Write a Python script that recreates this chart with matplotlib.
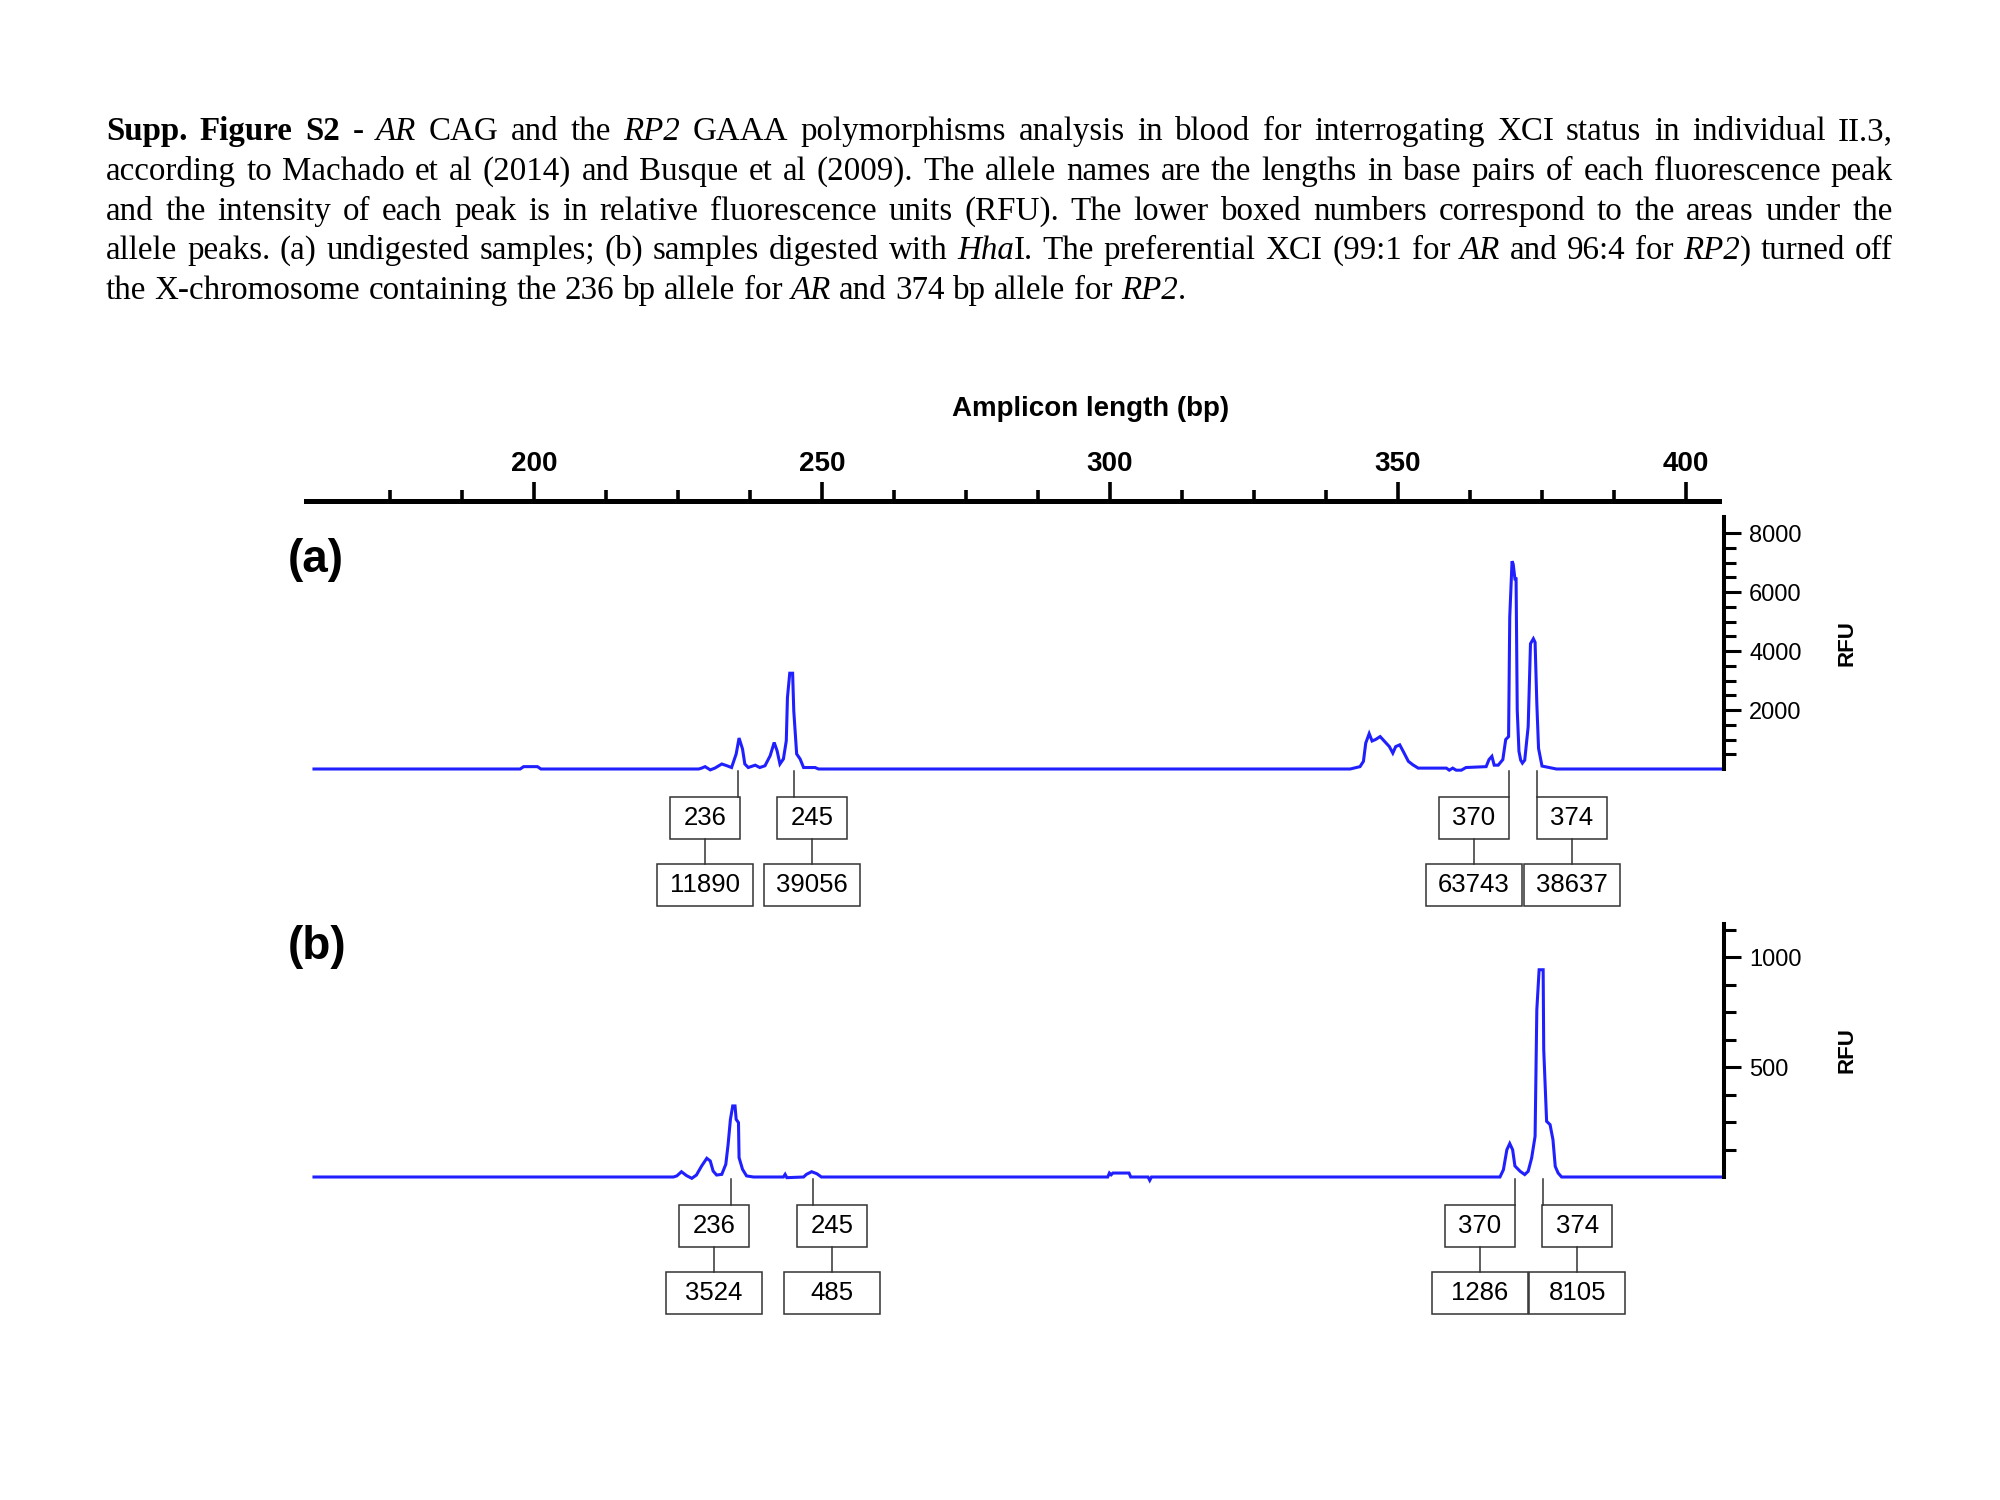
import re
import matplotlib
matplotlib.use('Agg')
import matplotlib.pyplot as plt
from matplotlib import font_manager
from matplotlib.patches import Rectangle
from matplotlib.ticker import FixedLocator
from matplotlib.transforms import blended_transform_factory

W, H = 2000, 1500

# scale of the top ruler (bp)
ruler_major = [200, 250, 300, 350, 400]
ruler_minor = [175, 187.5, 212.5, 225, 237.5, 262.5, 275, 287.5,
               312.5, 325, 337.5, 362.5, 375, 387.5]

# (a) undigested trace
a_bp = [161.8, 197.6, 198.2, 200.6, 201.2, 228.6, 229.1, 229.7, 230.6, 231.4,
        232.6, 233.5, 234.3, 235.1, 235.6, 236.2, 236.6, 237.2, 238.4, 239.2,
        240.1, 241.0, 241.7, 242.2, 242.7, 243.3, 243.8, 244.0, 244.4, 244.9,
        245.1, 245.6, 246.2, 246.8, 248.8, 249.4,
        341.7, 343.4, 344.0, 344.4, 345.0, 345.5, 346.1, 346.9, 347.7, 348.5,
        349.1, 349.6, 350.3, 350.9, 351.8, 352.6, 353.5, 358.4, 358.9, 359.5,
        360.1, 361.0, 361.8, 365.3, 365.8, 366.3, 366.7, 367.4, 368.2, 368.7,
        369.2, 369.4, 369.8, 370.0, 370.3, 370.5, 370.7, 371.0, 371.3, 371.6,
        372.0, 372.6, 373.0, 373.5, 373.8, 374.1, 374.4, 375.0, 377.5, 406.6]
a_rfu = [0, 0, 80, 80, 0, 0, 30, 80, -30, 30,
         170, 110, 50, 510, 1050, 680, 170, 50, 130, 50,
         110, 450, 900, 620, 170, 340, 960, 2420, 3250, 3250,
         1970, 510, 340, 50, 50, 0,
         0, 80, 260, 880, 1200, 950, 1000, 1100, 930, 760,
         540, 760, 820, 600, 260, 140, 30, 30, -40, 30,
         -40, -40, 50, 80, 320, 430, 130, 130, 320, 1000,
         1100, 5150, 7050, 6950, 6450, 6450, 2000, 600, 300, 200,
         300, 1440, 4250, 4420, 4300, 2230, 700, 100, 0, 0]

# (b) HhaI digested trace
b_bp = [161.8, 224.2, 224.8, 225.6, 226.5, 227.4, 228.2, 229.1, 230.0, 230.6,
        231.1, 231.7, 232.6, 233.3, 233.7, 234.1, 234.5, 234.9, 235.1, 235.5,
        235.6, 236.2, 236.9, 238.1, 243.3, 243.6, 243.9, 246.8, 247.3, 248.2,
        249.1, 249.9, 299.6, 299.9, 300.2, 300.5, 303.3, 303.6, 306.6, 306.9,
        307.2, 367.7, 368.3, 368.9, 369.4, 369.9, 370.3, 371.2, 372.0, 372.6,
        373.2, 373.8, 374.1, 374.5, 375.2, 375.3, 375.8, 376.4, 376.9, 377.3,
        377.8, 378.4, 406.6]
b_rfu = [0, 0, 5, 24, 6, -6, 9, 50, 85, 73,
         27, 9, 12, 58, 148, 262, 323, 323, 262, 247,
         88, 35, 5, 0, 0, 12, -3, 0, 12, 24,
         15, 0, 0, 18, 10, 18, 18, 0, 0, -15,
         0, 0, 33, 124, 152, 124, 50, 26, 11, 26,
         86, 185, 760, 942, 942, 579, 253, 238, 170, 48,
         18, 0, 0]

# allele calls and peak areas
alleles = ['236', '245', '370', '374']
a_calls = [235.4, 245.1, 369.3, 374.1]
a_areas = ['11890', '39056', '63743', '38637']
b_calls = [234.2, 248.4, 370.3, 375.2]
b_areas = ['3524', '485', '1286', '8105']
# horizontal shift of the label boxes from the call line (bp)
a_box_dx = [-5.7, 3.2, -6.1, 6.1]
b_box_dx = [-2.95, 3.3, -6.1, 5.9]

a_major = [2000, 4000, 6000, 8000]
a_minor = [500, 1000, 1500, 2500, 3000, 3500, 4500, 5000, 5500, 6500, 7000, 7500]
b_major = [500, 1000]
b_minor = [125, 250, 375, 625, 750, 875, 1125]

caption = [
    '<b>Supp. Figure S2</b> - <i>AR</i> CAG and the <i>RP2</i> GAAA polymorphisms analysis in blood for interrogating XCI status in individual II.3,',
    'according to Machado et al (2014) and Busque et al (2009). The allele names are the lengths in base pairs of each fluorescence peak',
    'and the intensity of each peak is in relative fluorescence units (RFU).  The lower boxed numbers correspond to the areas under the',
    'allele peaks. (a) undigested samples; (b) samples digested with <i>Hha</i>I. The preferential XCI (99:1 for <i>AR</i> and 96:4 for <i>RP2</i>) turned off',
    'the X-chromosome containing the 236 bp allele for <i>AR</i> and 374 bp allele for <i>RP2</i>.',
]


def have_font(name):
    try:
        font_manager.findfont(name, fallback_to_default=False)
        return True
    except ValueError:
        return False


SANS = 'Liberation Sans'
SERIF = 'Liberation Serif'
if have_font('Liberation Sans Narrow'):
    box_font, box_size = 'Liberation Sans Narrow', 20
else:
    box_font, box_size = SANS, 18.5

BLUE = '#2020ff'


def bp(px):
    # 200 bp sits at x=534 px, 400 bp at x=1686 px
    return 200 + (px - 534) / 5.76


def box_px(left, top, right, bottom):
    return [left / W, 1 - bottom / H, (right - left) / W, (bottom - top) / H]


fig = plt.figure(figsize=(20, 15), dpi=100)
fig.patch.set_facecolor('white')

# ---- top ruler
ax_s = fig.add_axes(box_px(306, 501, 1719, 511))
ax_s.set_xlim(bp(306), bp(1719))
ax_s.set_ylim(0, 1)
for s in ['left', 'right', 'bottom']:
    ax_s.spines[s].set_visible(False)
ax_s.spines['top'].set_linewidth(3.6)
ax_s.set_yticks([])
ax_s.xaxis.tick_top()
ax_s.xaxis.set_major_locator(FixedLocator(ruler_major))
ax_s.xaxis.set_minor_locator(FixedLocator(ruler_minor))
ax_s.tick_params(axis='x', which='major', direction='out', length=13.5, width=2.6,
                 pad=4, labelsize=20)
ax_s.tick_params(axis='x', which='minor', direction='out', length=8, width=2.6)
for lab in ax_s.get_xticklabels():
    lab.set_fontfamily(SANS)
    lab.set_fontweight('bold')
ax_s.patch.set_alpha(0)
fig.text(1091 / W, 1 - 409 / H, 'Amplicon length (bp)', ha='center', va='center',
         fontsize=20, fontweight='bold', family=SANS)


def panel(box, ylim, xs, ys, major, minor, calls, areas, dx, base_px):
    ax = fig.add_axes(box_px(*box))
    ax.set_xlim(bp(box[0]), bp(box[2]))
    ax.set_ylim(*ylim)
    ax.patch.set_alpha(0)
    for s in ['left', 'top', 'bottom']:
        ax.spines[s].set_visible(False)
    ax.spines['right'].set_linewidth(2.9)
    ax.set_xticks([])
    ax.yaxis.tick_right()
    ax.yaxis.set_major_locator(FixedLocator(major))
    ax.yaxis.set_minor_locator(FixedLocator(minor))
    ax.tick_params(axis='y', which='major', direction='out', length=12, width=2.2,
                   pad=6, labelsize=17)
    ax.tick_params(axis='y', which='minor', direction='out', length=8.5, width=2.2)
    for lab in ax.get_yticklabels():
        lab.set_fontfamily(SANS)
    ax.yaxis.set_label_position('right')
    ax.set_ylabel('RFU', fontsize=16, fontweight='bold', family=SANS, labelpad=25)

    ax.plot(xs, ys, color=BLUE, lw=2.2, clip_on=False, solid_joinstyle='miter')

    tr = blended_transform_factory(ax.transData, fig.transFigure)

    def fy(off):
        return 1 - (base_px + off) / H

    lc = '#333333'
    for x, name, area, d in zip(calls, alleles, areas, dx):
        cx = x + d
        ax.plot([x, x], [fy(2), fy(28)], transform=tr, color=lc, lw=1.1, clip_on=False)
        ax.add_patch(Rectangle((cx - 6.1, fy(70)), 12.2, fy(28) - fy(70), transform=tr,
                               fill=False, ec=lc, lw=1.1, clip_on=False))
        ax.text(cx, fy(49), name, transform=tr, ha='center', va='center',
                fontsize=box_size, family=box_font)
        ax.plot([cx, cx], [fy(70), fy(95)], transform=tr, color=lc, lw=1.1, clip_on=False)
        ax.add_patch(Rectangle((cx - 8.3, fy(137)), 16.6, fy(95) - fy(137), transform=tr,
                               fill=False, ec=lc, lw=1.1, clip_on=False))
        ax.text(cx, fy(116), area, transform=tr, ha='center', va='center',
                fontsize=box_size, family=box_font)
    return ax


ax_a = panel((295, 517, 1724, 769), (0, 8550), a_bp, a_rfu, a_major, a_minor,
             a_calls, a_areas, a_box_dx, 769)
ax_b = panel((295, 924, 1724, 1177), (0, 1150), b_bp, b_rfu, b_major, b_minor,
             b_calls, b_areas, b_box_dx, 1177)

fig.text(316 / W, 1 - 560 / H, '(a)', ha='center', va='center', fontsize=33,
         fontweight='bold', family=SANS)
fig.text(317 / W, 1 - 947 / H, '(b)', ha='center', va='center', fontsize=33,
         fontweight='bold', family=SANS)


# ---- justified caption
def parse(line):
    words = [[]]
    bold = ital = False
    for tok in re.split(r'(</?[bi]>)', line):
        if tok in ('<b>', '</b>'):
            bold = tok == '<b>'
            continue
        if tok in ('<i>', '</i>'):
            ital = tok == '<i>'
            continue
        for k, part in enumerate(tok.split(' ')):
            if k > 0:
                words.append([])
            if part:
                words[-1].append((part, bold, ital))
    return [w for w in words if w]


fig.canvas.draw()
rend = fig.canvas.get_renderer()


def text_w(s, bold, ital, size):
    t = fig.text(0, 0, s, fontsize=size, family=SERIF,
                 fontweight='bold' if bold else 'normal',
                 fontstyle='italic' if ital else 'normal')
    w = t.get_window_extent(rend).width
    t.remove()
    return w


cap_left, cap_right = 106, 1893
cap_base = [140, 180, 220, 259, 299]
lines = [parse(l) for l in caption]

size0 = 20
space0 = text_w('a a', False, False, size0) - text_w('aa', False, False, size0)
nat = []
for ws in lines[:-1]:
    tot = sum(text_w(p, b, i, size0) for w in ws for (p, b, i) in w)
    nat.append(tot + space0 * (len(ws) - 1))
cap_size = size0 * 0.985 * (cap_right - cap_left) / max(nat)
space = space0 * cap_size / size0

for n, (ws, yb) in enumerate(zip(lines, cap_base)):
    widths = [[text_w(p, b, i, cap_size) for (p, b, i) in w] for w in ws]
    total = sum(sum(w) for w in widths)
    if n < len(lines) - 1:
        gap = (cap_right - cap_left - total) / (len(ws) - 1)
    else:
        gap = space
    x = cap_left
    for w, ww in zip(ws, widths):
        for (p, b, i), wp in zip(w, ww):
            fig.text(x / W, 1 - yb / H, p, fontsize=cap_size, family=SERIF,
                     fontweight='bold' if b else 'normal',
                     fontstyle='italic' if i else 'normal', ha='left', va='baseline')
            x += wp
        x += gap

fig.savefig('out.png', dpi=100, facecolor='white')
